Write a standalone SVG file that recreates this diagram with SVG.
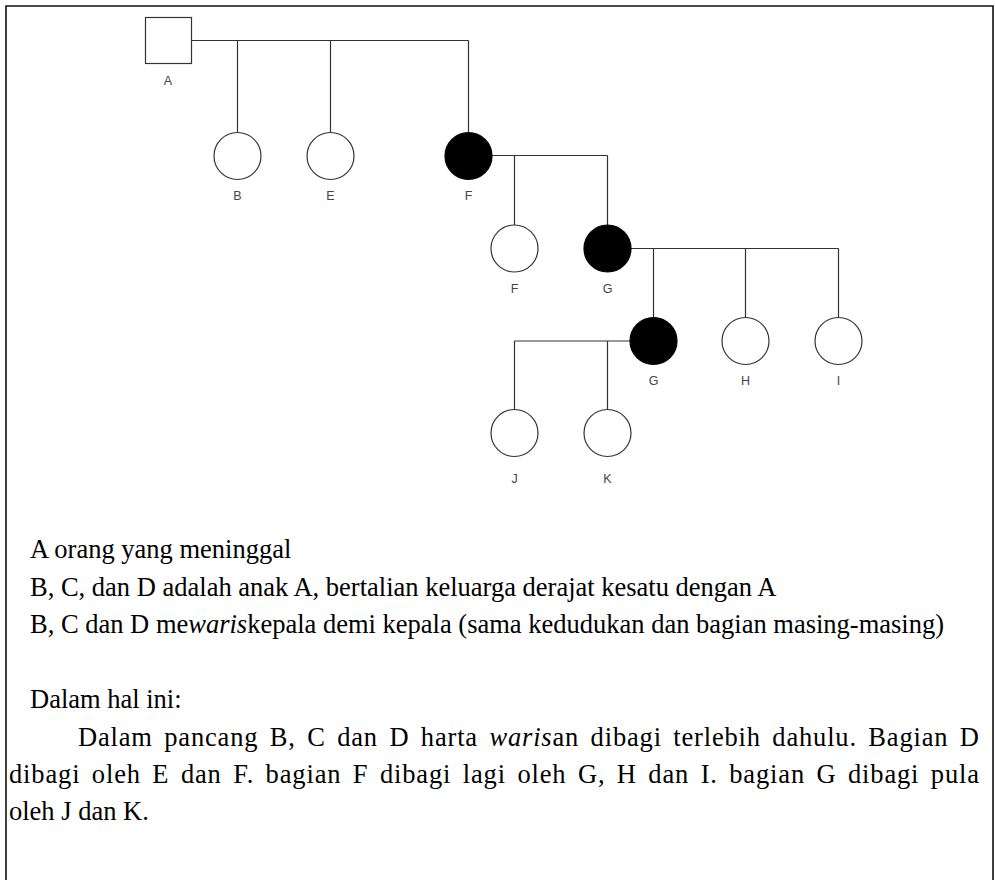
<svg xmlns="http://www.w3.org/2000/svg" width="995" height="880" viewBox="0 0 995 880">
  <style>
    .frame { fill: none; stroke: #111; stroke-width: 1.6; }
    .link { fill: none; stroke: #333; stroke-width: 1.2; }
    .person { fill: #fff; stroke: #333; stroke-width: 1.2; }
    .person.heir { fill: #000; stroke: #000; }
    .label { font-family: "Liberation Sans", Arial, sans-serif; font-size: 12.5px; fill: #444; text-anchor: middle; }
    .body { font-family: "Liberation Serif", "Times New Roman", serif; font-size: 26.5px; fill: #000; }
    .just { word-spacing: 4px; }
    .it { font-style: italic; }
  </style>
  <rect width="995" height="880" fill="#fff"/>
  <path class="frame" d="M6,880 V6 H993 V880"/>

  <!-- pedigree lines -->
  <g id="connectors">
    <path class="link" d="M191.5,40.5 H468.5 M237.5,40.5 V132.5 M330.5,40.5 V132.5 M468.5,40.5 V132.5"/>
    <path class="link" d="M492,155.5 H607.5 M514.5,155.5 V225 M607.5,155.5 V225"/>
    <path class="link" d="M631,248.5 H838.5 M653.5,248.5 V317.5 M745.5,248.5 V317.5 M838.5,248.5 V317.5"/>
    <path class="link" d="M630,341 H514.5 M514.5,341 V409.5 M607.5,341 V409.5"/>
  </g>

  <g id="node-A">
    <rect class="person" x="145.5" y="17.5" width="46" height="46"/>
    <text class="label" x="168" y="85">A</text>
  </g>
  <g id="node-B">
    <circle class="person" cx="237.5" cy="156" r="23.5"/>
    <text class="label" x="237.5" y="200">B</text>
  </g>
  <g id="node-E">
    <circle class="person" cx="330.5" cy="156" r="23.5"/>
    <text class="label" x="330.5" y="200">E</text>
  </g>
  <g id="node-F">
    <circle class="person heir" cx="468.5" cy="156" r="23.5"/>
    <text class="label" x="468.5" y="200">F</text>
  </g>
  <g id="node-F2">
    <circle class="person" cx="514.5" cy="248.5" r="23.5"/>
    <text class="label" x="514.5" y="293">F</text>
  </g>
  <g id="node-G">
    <circle class="person heir" cx="607.5" cy="248.5" r="23.5"/>
    <text class="label" x="607.5" y="293">G</text>
  </g>
  <g id="node-G2">
    <circle class="person heir" cx="653.5" cy="341" r="23.5"/>
    <text class="label" x="653.5" y="385">G</text>
  </g>
  <g id="node-H">
    <circle class="person" cx="745.5" cy="341" r="23.5"/>
    <text class="label" x="745.5" y="385">H</text>
  </g>
  <g id="node-I">
    <circle class="person" cx="838.5" cy="341" r="23.5"/>
    <text class="label" x="838.5" y="385">I</text>
  </g>
  <g id="node-J">
    <circle class="person" cx="514.5" cy="433" r="23.5"/>
    <text class="label" x="514.5" y="483">J</text>
  </g>
  <g id="node-K">
    <circle class="person" cx="607.5" cy="433" r="23.5"/>
    <text class="label" x="607.5" y="483">K</text>
  </g>

  <!-- explanatory text -->
  <g id="notes">
    <text class="body" x="30" y="558">A orang yang meninggal</text>
    <text class="body" x="30" y="596">B, C, dan D adalah anak A, bertalian keluarga derajat kesatu dengan A</text>
    <text class="body" x="30" y="633">B, C dan D me<tspan class="it">waris</tspan>kepala demi kepala (sama kedudukan dan bagian masing-masing)</text>
    <text class="body" x="30" y="708">Dalam hal ini:</text>
    <text class="body just" x="78" y="746" textLength="901" lengthAdjust="spacing">Dalam pancang B, C dan D harta <tspan class="it">waris</tspan>an dibagi terlebih dahulu. Bagian D</text>
    <text class="body just" x="9" y="783" textLength="970" lengthAdjust="spacing">dibagi oleh E dan F. bagian F dibagi lagi oleh G, H dan I. bagian G dibagi pula</text>
    <text class="body" x="9" y="820">oleh J dan K.</text>
  </g>
</svg>
